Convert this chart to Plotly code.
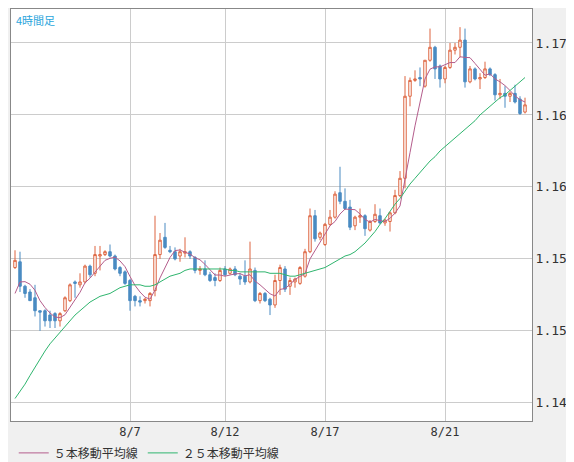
import plotly.graph_objects as go

# 4h candles
opens = [1.1544, 1.1548, 1.1531, 1.1527, 1.1523, 1.1514, 1.1514, 1.1511, 1.1512, 1.1507,
         1.1514, 1.1521, 1.1534, 1.1532, 1.1534, 1.1545, 1.1540, 1.1552, 1.1553, 1.1555,
         1.1552, 1.1544, 1.1541, 1.1535, 1.1524, 1.1521, 1.1521, 1.1521, 1.1528, 1.1553,
         1.1565, 1.1556, 1.1555, 1.1552, 1.1554, 1.1555, 1.1551, 1.1542, 1.1543, 1.1539,
         1.1537, 1.1535, 1.1543, 1.1540, 1.1543, 1.1538, 1.1538, 1.1534, 1.1542, 1.1521,
         1.1526, 1.1522, 1.1518, 1.1535, 1.1543, 1.1531, 1.1534, 1.1533, 1.1538, 1.1555,
         1.1580, 1.1565, 1.1560, 1.1574, 1.1579, 1.1596, 1.1590, 1.1586, 1.1573, 1.1579,
         1.1580, 1.1570, 1.1576, 1.1580, 1.1575, 1.1576, 1.1582, 1.1594, 1.1606, 1.1663,
         1.1674, 1.1676, 1.1670, 1.1688, 1.1697, 1.1684, 1.1675, 1.1683, 1.1695, 1.1697,
         1.1702, 1.1673, 1.1682, 1.1675, 1.1676, 1.1682, 1.1678, 1.1664, 1.1665, 1.1663,
         1.1665, 1.1661, 1.1652]
highs = [1.1556, 1.1555, 1.1532, 1.1529, 1.1532, 1.1514, 1.1515, 1.1514, 1.1513, 1.1513,
         1.1524, 1.1533, 1.1535, 1.1540, 1.1546, 1.1546, 1.1559, 1.1559, 1.1556, 1.1560,
         1.1553, 1.1545, 1.1542, 1.1536, 1.1525, 1.1524, 1.1523, 1.1527, 1.1580, 1.1568,
         1.1575, 1.1559, 1.1558, 1.1557, 1.1565, 1.1556, 1.1552, 1.1545, 1.1549, 1.1541,
         1.1540, 1.1544, 1.1545, 1.1544, 1.1545, 1.1540, 1.1549, 1.1562, 1.1544, 1.1527,
         1.1527, 1.1523, 1.1539, 1.1546, 1.1545, 1.1537, 1.1537, 1.1545, 1.1557, 1.1585,
         1.1584, 1.1569, 1.1575, 1.1584, 1.1597, 1.1614, 1.1599, 1.1591, 1.1580, 1.1585,
         1.1581, 1.1577, 1.1588, 1.1585, 1.1578, 1.1583, 1.1598, 1.1611, 1.1677, 1.1676,
         1.1681, 1.1683, 1.1688, 1.1710, 1.1698, 1.1685, 1.1684, 1.1700, 1.1700, 1.1711,
         1.1710, 1.1684, 1.1683, 1.1679, 1.1687, 1.1683, 1.1679, 1.1675, 1.1670, 1.1666,
         1.1671, 1.1663, 1.1662]
lows = [1.1543, 1.1527, 1.1523, 1.1521, 1.1510, 1.1500, 1.1503, 1.1502, 1.1502, 1.1503,
        1.1513, 1.1520, 1.1523, 1.1530, 1.1533, 1.1537, 1.1538, 1.1542, 1.1552, 1.1551,
        1.1542, 1.1538, 1.1532, 1.1514, 1.1517, 1.1517, 1.1519, 1.1517, 1.1524, 1.1550,
        1.1557, 1.1554, 1.1549, 1.1548, 1.1551, 1.1550, 1.1540, 1.1539, 1.1538, 1.1534,
        1.1531, 1.1534, 1.1538, 1.1539, 1.1538, 1.1532, 1.1532, 1.1533, 1.1520, 1.1519,
        1.1520, 1.1511, 1.1516, 1.1525, 1.1527, 1.1525, 1.1530, 1.1532, 1.1537, 1.1554,
        1.1562, 1.1563, 1.1559, 1.1573, 1.1578, 1.1588, 1.1584, 1.1570, 1.1570, 1.1575,
        1.1566, 1.1569, 1.1575, 1.1574, 1.1573, 1.1569, 1.1581, 1.1593, 1.1599, 1.1656,
        1.1673, 1.1670, 1.1669, 1.1687, 1.1675, 1.1669, 1.1672, 1.1682, 1.1692, 1.1690,
        1.1669, 1.1672, 1.1674, 1.1668, 1.1675, 1.1677, 1.1660, 1.1661, 1.1655, 1.1659,
        1.1658, 1.1650, 1.1651]
closes = [1.1549, 1.1531, 1.1526, 1.1521, 1.1514, 1.1513, 1.1507, 1.1507, 1.1507, 1.1512,
          1.1523, 1.1532, 1.1533, 1.1534, 1.1545, 1.1539, 1.1553, 1.1553, 1.1555, 1.1552,
          1.1543, 1.1540, 1.1533, 1.1521, 1.1521, 1.1520, 1.1522, 1.1526, 1.1553, 1.1563,
          1.1558, 1.1555, 1.1550, 1.1555, 1.1555, 1.1552, 1.1542, 1.1543, 1.1539, 1.1535,
          1.1535, 1.1542, 1.1539, 1.1543, 1.1539, 1.1536, 1.1534, 1.1543, 1.1521, 1.1526,
          1.1521, 1.1518, 1.1535, 1.1544, 1.1529, 1.1535, 1.1536, 1.1544, 1.1555, 1.1580,
          1.1564, 1.1568, 1.1574, 1.1579, 1.1595, 1.1590, 1.1585, 1.1572, 1.1579, 1.1580,
          1.1571, 1.1576, 1.1581, 1.1575, 1.1577, 1.1582, 1.1594, 1.1606, 1.1663, 1.1674,
          1.1675, 1.1675, 1.1688, 1.1697, 1.1682, 1.1675, 1.1683, 1.1695, 1.1697, 1.1702,
          1.1673, 1.1682, 1.1675, 1.1676, 1.1682, 1.1678, 1.1664, 1.1665, 1.1663, 1.1665,
          1.1659, 1.1651, 1.1657]
# closes before the visible window (needed for the first 5-bar averages)
prior_closes = [1.1491, 1.1525, 1.1530, 1.1535]

ma25 = [1.1453, 1.1458, 1.1463, 1.1469, 1.1475, 1.1481, 1.1486, 1.1491, 1.1495, 1.1499,
        1.1503, 1.1507, 1.1511, 1.1514, 1.1517, 1.1520, 1.1522, 1.1524, 1.1525, 1.1526,
        1.1528, 1.1530, 1.1531, 1.1532, 1.1532, 1.1532, 1.1531, 1.1531, 1.1532, 1.1534,
        1.1536, 1.1538, 1.1539, 1.1540, 1.1542, 1.1543, 1.1543, 1.1543, 1.1543, 1.1543,
        1.1543, 1.1543, 1.1543, 1.1542, 1.1542, 1.1541, 1.1541, 1.1541, 1.1541, 1.1541,
        1.1541, 1.1540, 1.1540, 1.1540, 1.1539, 1.1538, 1.1538, 1.1539, 1.1540, 1.1541,
        1.1542, 1.1543, 1.1544, 1.1546, 1.1548, 1.1550, 1.1552, 1.1553, 1.1555, 1.1558,
        1.1561, 1.1565, 1.1569, 1.1574, 1.1578, 1.1583, 1.1588, 1.1592, 1.1597, 1.1602,
        1.1606, 1.1610, 1.1614, 1.1618, 1.1621, 1.1625, 1.1628, 1.1631, 1.1634, 1.1637,
        1.1640, 1.1643, 1.1646, 1.1650, 1.1653, 1.1656, 1.1659, 1.1662, 1.1664, 1.1667,
        1.1670, 1.1673, 1.1676]

tick_pos = [23, 42, 62, 86]
tick_text = ["8/7", "8/12", "8/17", "8/21"]
price_ticks = [1.145, 1.150, 1.155, 1.160, 1.165, 1.170]
price_text = ["1.145", "1.150", "1.155", "1.160", "1.165", "1.170"]

UP = "#dd6540"
DOWN = "#4a8bc2"

x = list(range(len(closes)))
allc = prior_closes + closes
ma5 = [sum(allc[i:i + 5]) / 5 for i in range(len(closes))]

fig = go.Figure()
fig.add_trace(go.Candlestick(
    x=x, open=opens, high=highs, low=lows, close=closes,
    increasing=dict(line=dict(color=UP, width=1), fillcolor="white"),
    decreasing=dict(line=dict(color=DOWN, width=1), fillcolor=DOWN),
    whiskerwidth=0, showlegend=False, hoverinfo="skip"))
fig.add_trace(go.Scatter(x=x, y=ma5, mode="lines", name="５本移動平均線",
                         line=dict(color="#b45d8c", width=1)))
fig.add_trace(go.Scatter(x=x, y=ma25, mode="lines", name="２５本移動平均線",
                         line=dict(color="#2fb56e", width=1)))

fig.add_annotation(text="4時間足", xref="paper", yref="paper", x=0.005, y=0.998,
                   xanchor="left", yanchor="top", showarrow=False,
                   font=dict(size=11, color="#2aa5dc", family="Noto Sans CJK JP"))

fig.update_layout(
    width=574, height=462,
    margin=dict(l=3, r=50, t=1, b=49, autoexpand=False),
    paper_bgcolor="#f0f0f0", plot_bgcolor="white",
    font=dict(family="DejaVu Sans Mono", size=12, color="#333"),
    legend=dict(orientation="h", x=0.01, y=0.037, xref="container", yref="container",
                xanchor="left", yanchor="middle",
                bgcolor="rgba(0,0,0,0)", font=dict(family="Noto Sans CJK JP", size=12),
                itemwidth=30),
    showlegend=True,
)
fig.update_xaxes(range=[-0.8, 103.4], tickvals=tick_pos, ticktext=tick_text, automargin=False,
                 rangeslider_visible=False, showgrid=True, gridcolor="#cccccc",
                 showline=True, linecolor="#888", mirror=True, ticks="", zeroline=False,
                 tickfont=dict(size=12))
fig.update_yaxes(range=[1.14374, 1.17236], side="right", tickvals=price_ticks, ticktext=price_text,
                 automargin=False, showgrid=True, gridcolor="#cccccc",
                 showline=True, linecolor="#888", mirror=True, ticks="", zeroline=False,
                 tickfont=dict(size=13))

fig.write_html("out.html")
